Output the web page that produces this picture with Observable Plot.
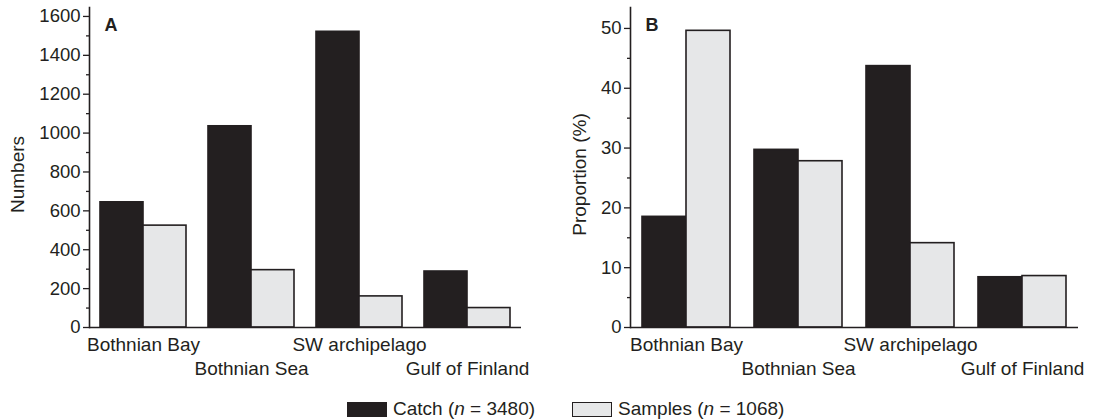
<!DOCTYPE html>
<html><head><meta charset="utf-8">
<script src="https://cdn.jsdelivr.net/npm/d3@7"></script>
<script src="https://cdn.jsdelivr.net/npm/@observablehq/plot@0.6"></script>
<style>
body{margin:0;background:#fff;font-family:"Liberation Sans",Arial,sans-serif;color:#231f20;}
#wrap{position:relative;width:1096px;height:420px;overflow:hidden;}
#charts{display:flex;}
.li{position:absolute;top:398px;display:flex;align-items:center;font-size:19px;line-height:22px;white-space:nowrap;}
.sw{width:40px;height:15px;box-sizing:border-box;margin-right:6px;}
</style></head><body>
<div id="wrap"><div id="charts"></div><div id="legend"></div></div>
<script>
const regions = ["Bothnian Bay", "Bothnian Sea", "SW archipelago", "Gulf of Finland"];
const seriesNames = ["Catch", "Samples"];
const seriesN = [3480, 1068];
const catchNumbers = [644, 1035, 1521, 288];
const sampleNumbers = [524, 295, 160, 100];
const catchPercent = [18.5, 29.7, 43.7, 8.4];
const samplePercent = [49.6, 27.8, 14.1, 8.6];
const ticksA = [0, 200, 400, 600, 800, 1000, 1200, 1400, 1600];
const minorTicksA = [100, 300, 500, 700, 900, 1100, 1300, 1500];
const ticksB = [0, 10, 20, 30, 40, 50];
const minorTicksB = [5, 15, 25, 35, 45];
const colors = ["#231f20", "#e6e7e8"];
const ink = "#231f20";

function panel({v1, v2, letter, ylabel, yMax, ticks, minor, width, ml, mr, labelDx}) {
  const rows = regions.flatMap((r, i) => [
    {region: r, series: seriesNames[0], value: v1[i]},
    {region: r, series: seriesNames[1], value: v2[i]}
  ]);
  const row1 = regions.filter((_, i) => i % 2 === 0);
  const row2 = regions.filter((_, i) => i % 2 === 1);
  return Plot.plot({
    width, height: 385, marginLeft: ml, marginRight: mr, marginTop: 7, marginBottom: 58,
    style: {fontFamily: "'Liberation Sans', Arial, sans-serif", color: ink, background: "white", overflow: "visible"},
    fx: {domain: regions, padding: 0, axis: null},
    x: {domain: seriesNames, paddingInner: 0, paddingOuter: 0.25, axis: null},
    y: {domain: [0, yMax], axis: null},
    color: {domain: seriesNames, range: colors},
    marks: [
      Plot.barY(rows, {fx: "region", x: "series", y: "value", fill: "series", stroke: ink, strokeWidth: 1.6}),
      Plot.ruleY([0], {stroke: ink, strokeWidth: 1.6}),
      Plot.frame({anchor: "left", facetAnchor: "left", stroke: ink, strokeWidth: 1.6}),
      Plot.axisY({ticks, tickFormat: d => String(d), tickSize: 6, tickPadding: 3, label: null, fontSize: 18.5, strokeWidth: 1.3}),
      Plot.axisY({ticks: minor, tickSize: 3, text: null, label: null, strokeWidth: 1.3}),
      Plot.text(row1, {fx: d => d, text: d => d, frameAnchor: "bottom", lineAnchor: "middle", textAnchor: "middle", dy: 17, fontSize: 19, fill: ink}),
      Plot.text(row2, {fx: d => d, text: d => d, frameAnchor: "bottom", lineAnchor: "middle", textAnchor: "middle", dy: 41, fontSize: 19, fill: ink}),
      Plot.text([letter], {frameAnchor: "top-left", facetAnchor: "left", textAnchor: "start", lineAnchor: "middle", dx: 15, dy: 18, fontSize: 18, fontWeight: "bold", fill: ink}),
      Plot.text([ylabel], {frameAnchor: "left", facetAnchor: "left", rotate: -90, textAnchor: "middle", lineAnchor: "middle", dx: labelDx, dy: 7, fontSize: 19, fill: ink})
    ]
  });
}

const charts = document.getElementById("charts");
charts.append(panel({v1: catchNumbers, v2: sampleNumbers, letter: "A", ylabel: "Numbers", yMax: 1646,
  ticks: ticksA, minor: minorTicksA, width: 548, ml: 87, mr: 26, labelDx: -72}));
charts.append(panel({v1: catchPercent, v2: samplePercent, letter: "B", ylabel: "Proportion (%)", yMax: 53.5,
  ticks: ticksB, minor: minorTicksB, width: 548, ml: 81, mr: 17, labelDx: -51}));

const legend = document.getElementById("legend");
const legendLeft = [347, 572];
seriesNames.forEach((s, i) => {
  const item = document.createElement("div");
  item.className = "li";
  item.style.left = legendLeft[i] + "px";
  const sw = document.createElement("div");
  sw.className = "sw";
  sw.style.background = colors[i];
  sw.style.border = "1.5px solid " + ink;
  const t = document.createElement("span");
  t.innerHTML = `${s} (<i>n</i> = ${seriesN[i]})`;
  item.append(sw, t);
  legend.append(item);
});
</script>
</body></html>
